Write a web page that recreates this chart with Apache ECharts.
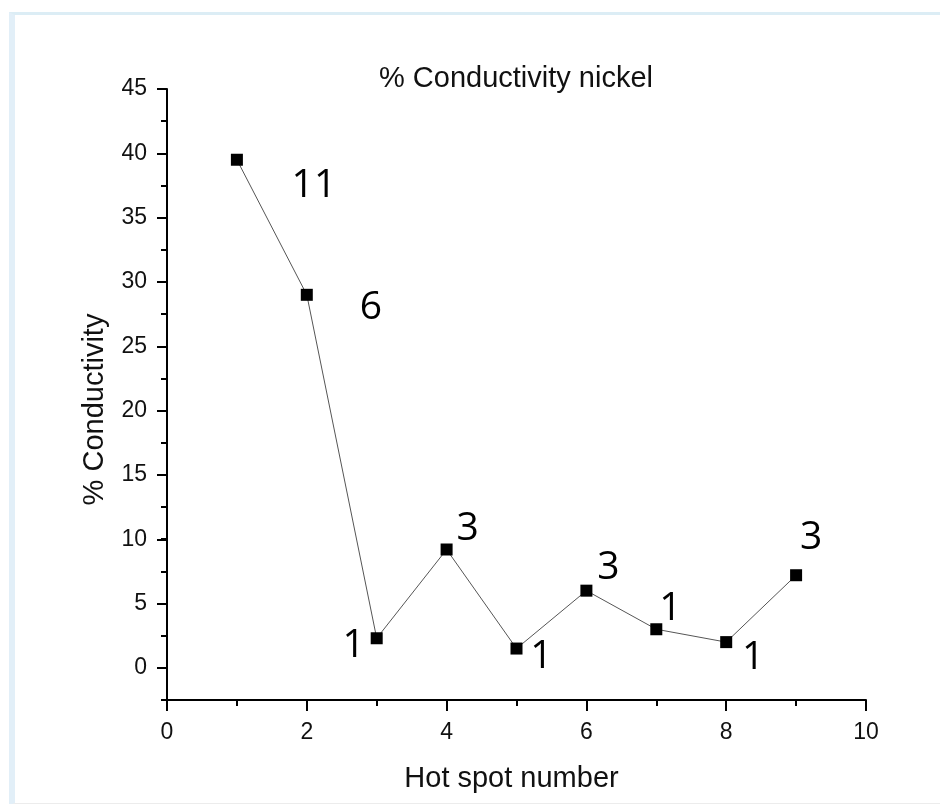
<!DOCTYPE html>
<html>
<head>
<meta charset="utf-8">
<script src="https://cdn.jsdelivr.net/npm/echarts@6/dist/echarts.min.js"></script>
<style>
  html, body { margin: 0; padding: 0; background: #ffffff; }
  #wrap { position: relative; width: 940px; height: 804px; overflow: hidden; }
  #frame { position: absolute; left: 9px; top: 12px; width: 940px; height: 788px;
           border-top: 3px solid #dcedf5; border-left: 6px solid #e2eff8;
           border-bottom: 2px solid #ececec; pointer-events: none; }
  #chart { position: absolute; left: 0; top: 0; width: 940px; height: 804px; }
</style>
</head>
<body>
<div id="wrap">
  <div id="frame"></div>
  <div id="chart"></div>
</div>
<script>
// ---- data ----
const hotSpots = [1, 2, 3, 4, 5, 6, 7, 8, 9];
const conductivity = [39.5, 29.0, 2.3, 9.2, 1.5, 6.0, 3.0, 2.0, 7.2];
const counts = ['11', '6', '1', '3', '1', '3', '1', '1', '3'];
const xTickLabels = ['0', '2', '4', '6', '8', '10'];
const yTickLabels = ['0', '5', '10', '15', '20', '25', '30', '35', '40', '45'];
const chartTitle = '% Conductivity nickel';
const xName = 'Hot spot number';
const yName = '% Conductivity';

// ---- layout (not data) ----
const labelOffsets = [[77, 26], [64, 13], [-23, 8], [21, -21], [25, 8], [22, -23], [14, -20], [27, 16], [15, -37]];

const chart = echarts.init(document.getElementById('chart'), null, { renderer: 'canvas' });

const axisFont = 'Liberation Sans, Arial, sans-serif';
const black = '#000000';

const seriesData = hotSpots.map((x, i) => ({
  value: [x, conductivity[i]],
  label: { offset: labelOffsets[i] }
}));

const option = {
  animation: false,
  backgroundColor: 'transparent',
  title: {
    text: chartTitle,
    left: 516,
    top: 64,
    textAlign: 'center',
    padding: 0,
    textStyle: { fontFamily: axisFont, fontSize: 29, fontWeight: 'normal', color: '#111' }
  },
  grid: [
    { left: 167, right: 74, top: 89, bottom: 104 },
    { left: 167, right: 74, top: 89, bottom: 136 }
  ],
  xAxis: [
    {
      gridIndex: 0, type: 'value', position: 'bottom', min: 0, max: 10, interval: 1,
      axisLine: { show: true, onZero: false, lineStyle: { color: black, width: 2 } },
      axisTick: { show: true, inside: false, length: 6, lineStyle: { color: black, width: 2 } },
      axisLabel: { show: false },
      splitLine: { show: false }
    },
    {
      gridIndex: 0, type: 'value', position: 'bottom', min: 0, max: 10, interval: 2,
      axisLine: { show: false, onZero: false },
      axisTick: { show: true, inside: false, length: 11, lineStyle: { color: black, width: 2 } },
      axisLabel: {
        show: true, margin: 21, fontFamily: axisFont, fontSize: 23, color: '#111',
        formatter: (v) => { const k = xTickLabels.indexOf(String(v)); return k >= 0 ? xTickLabels[k] : ''; }
      },
      splitLine: { show: false },
      name: xName, nameLocation: 'middle', nameGap: 64,
      nameTextStyle: { fontFamily: axisFont, fontSize: 29, color: '#111', padding: [0, 10, 0, 0] }
    },
    {
      gridIndex: 1, type: 'value', min: 0, max: 10, show: false
    }
  ],
  yAxis: [
    {
      gridIndex: 0, type: 'value', position: 'left', min: -2.5, max: 45, interval: 2.5,
      axisLine: { show: true, onZero: false, lineStyle: { color: black, width: 2 } },
      axisTick: { show: true, inside: false, length: 6, lineStyle: { color: black, width: 2 } },
      axisLabel: { show: false },
      splitLine: { show: false }
    },
    {
      gridIndex: 1, type: 'value', position: 'left', min: 0, max: 45, interval: 5,
      axisLine: { show: false, onZero: false },
      axisTick: { show: true, inside: false, length: 10, lineStyle: { color: black, width: 2 } },
      axisLabel: {
        show: true, margin: 20, fontFamily: axisFont, fontSize: 23, color: '#111',
        formatter: (v) => { const k = yTickLabels.indexOf(String(v)); return k >= 0 ? yTickLabels[k] : ''; }
      },
      splitLine: { show: false },
      name: yName, nameLocation: 'middle', nameGap: 58, nameRotate: 90,
      nameTextStyle: { fontFamily: axisFont, fontSize: 29, color: '#111', padding: [0, 62, 0, 0] }
    }
  ],
  series: [
    {
      type: 'line',
      xAxisIndex: 0,
      yAxisIndex: 0,
      data: seriesData,
      symbol: 'rect',
      symbolSize: 12,
      itemStyle: { color: black },
      lineStyle: { color: '#555555', width: 1 },
      label: {
        show: true,
        position: 'inside',
        formatter: (p) => counts[p.dataIndex],
        fontFamily: 'Open Sans, Noto Sans, sans-serif',
        fontSize: 39,
        color: '#000'
      },
      emphasis: { disabled: true },
      z: 3
    }
  ]
};

chart.setOption(option);
</script>
</body>
</html>
